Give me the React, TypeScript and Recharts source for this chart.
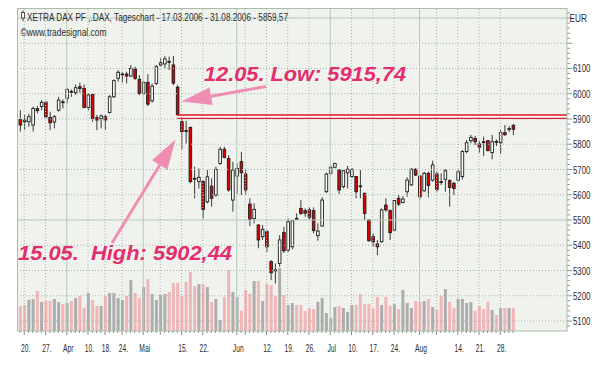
import React from 'react';
import { ComposedChart, Bar, XAxis, YAxis, ReferenceLine, ReferenceArea, Cell } from 'recharts';

// ---- data ----
const opens = [
  5898, 5895, 5889, 5876, 5941, 5949, 5966, 5906, 5888, 5935,
  5968, 5982, 6009, 6004, 6028, 6021, 5946, 5997, 5905, 5901,
  5909, 5926, 5988, 6061, 6076, 6078, 6070, 6098, 6057, 6001,
  6045, 5972, 6041, 6114, 6118, 6128, 6114, 6026, 5889, 5854,
  5867, 5665, 5652, 5652, 5572, 5634, 5599, 5724, 5780, 5744,
  5579, 5674, 5731, 5682, 5563, 5506, 5480, 5434, 5454, 5335,
  5302, 5328, 5450, 5381, 5394, 5506, 5546, 5537, 5540, 5537,
  5438, 5476, 5612, 5685, 5709, 5698, 5632, 5687, 5672, 5672,
  5635, 5606, 5500, 5434, 5405, 5414, 5559, 5537, 5460, 5586,
  5569, 5612, 5639, 5701, 5674, 5616, 5685, 5658, 5682, 5652,
  5661, 5656, 5645, 5658, 5672, 5771, 5814, 5823, 5801, 5810,
  5814, 5767, 5811, 5806, 5846, 5861, 5875,
];
const highs = [
  5935, 5916, 5920, 5949, 5951, 5975, 5971, 5929, 5916, 5988,
  5978, 6024, 6017, 6037, 6044, 6037, 6001, 6001, 5916, 5918,
  5916, 5995, 6057, 6094, 6087, 6087, 6114, 6107, 6074, 6052,
  6078, 6041, 6114, 6140, 6150, 6147, 6150, 6035, 5902.44, 5893,
  5869, 5711, 5704, 5658, 5698, 5665, 5711, 5790, 5790, 5757,
  5731, 5724, 5770, 5698, 5586, 5566, 5484, 5480, 5460, 5341,
  5328, 5440, 5473, 5506, 5500, 5526, 5579, 5546, 5550, 5550,
  5487, 5590, 5687, 5718, 5727, 5701, 5698, 5714, 5705, 5674,
  5698, 5608, 5503, 5447, 5421, 5546, 5586, 5542, 5579, 5599,
  5595, 5669, 5705, 5705, 5678, 5691, 5691, 5735, 5691, 5685,
  5701, 5661, 5652, 5698, 5777, 5817, 5837, 5833, 5814, 5830,
  5817, 5837, 5819, 5856, 5876, 5872, 5880,
];
const lows = [
  5850, 5856, 5869, 5850, 5922, 5935, 5902, 5856, 5863, 5929,
  5942, 5962, 5988, 5997, 6004, 5942, 5935, 5889, 5856, 5863,
  5856, 5922, 5984, 6048, 6044, 6041, 6067, 6054, 5995, 5995,
  5951, 5964, 6034, 6107, 6100, 6094, 6034, 5915.74, 5780, 5803,
  5645, 5586, 5625, 5506, 5566, 5553, 5592, 5718, 5744, 5612,
  5533, 5603, 5599, 5599, 5476, 5487, 5388, 5421, 5374, 5262,
  5249, 5315, 5370, 5374, 5384, 5500, 5520, 5513, 5500, 5447,
  5418, 5474, 5608, 5678, 5705, 5603, 5625, 5625, 5665, 5586,
  5586, 5500, 5414, 5394, 5361, 5410, 5533, 5421, 5458, 5555,
  5566, 5592, 5635, 5674, 5582, 5612, 5590, 5652, 5612, 5639,
  5612, 5553, 5599, 5652, 5661, 5764, 5804, 5797, 5767, 5753,
  5771, 5740, 5793, 5761, 5833, 5848, 5837,
];
const closes = [
  5876, 5889, 5909, 5942, 5933, 5966, 5909, 5885, 5909, 5975,
  5965, 6017, 6007, 6024, 6021, 5946, 5995, 5902, 5896, 5912,
  5896, 5988, 6052, 6085, 6078, 6070, 6100, 6061, 6001, 6045,
  5959, 6030, 6107, 6123, 6138, 6126, 6042, 5917, 5850, 5852,
  5652, 5663, 5669, 5542, 5671, 5586, 5700, 5780, 5748, 5619,
  5698, 5704, 5687, 5619, 5502, 5542, 5421, 5463, 5394, 5291,
  5300, 5421, 5378, 5493, 5497, 5502, 5526, 5527, 5511, 5458,
  5456, 5579, 5682, 5709, 5724, 5619, 5695, 5701, 5701, 5612,
  5633, 5526, 5418, 5414, 5394, 5540, 5540, 5450, 5577, 5563,
  5583, 5658, 5701, 5678, 5592, 5685, 5637, 5718, 5621, 5650,
  5695, 5629, 5625, 5691, 5771, 5806, 5827, 5810, 5788, 5808,
  5775, 5810, 5810, 5846, 5838, 5862, 5859.57,
];
const volumes = [
  25, 26, 31, 32, 40, 29, 30, 30, 32, 29,
  27, 28, 30, 33, 35, 23, 38, 31, 25, 25,
  35, 38, 38, 33, 31, 35, 51, 38, 33, 44,
  52, 37, 31, 36, 37, 39, 48, 48, 35, 49,
  59, 45, 47, 47, 44, 29, 32, 11, 34, 61,
  39, 34, 20, 41, 37, 50, 50, 30, 47, 46,
  35, 63, 36, 26, 28, 26, 26, 20, 23, 22,
  29, 33, 18, 13, 24, 25, 23, 19, 26, 26,
  37, 27, 27, 23, 34, 26, 34, 25, 27, 22,
  41, 28, 23, 30, 29, 30, 32, 24, 21, 35,
  42, 29, 23, 32, 32, 28, 29, 20, 25, 22,
  29, 21, 16, 23, 23, 23, 23,
];

// x-axis labels (index of trading day -> label)
const labelIdx = [1, 6, 11, 16, 20, 24, 29, 38, 43, 51, 58, 63, 68, 73, 78, 83, 88, 94, 103, 108, 113];
const labelText = ['20.', '27.', 'Apr', '10.', '18.', '24.', 'Mai', '15.', '22.', 'Jun', '12.', '19.', '26.', 'Jul', '10.', '17.', '24.', 'Aug', '14.', '21.', '28.'];
const monthStartIdx = [11, 29, 51, 73, 94];
const weekStartIdx = [1, 6, 16, 20, 24, 33, 38, 43, 53, 58, 63, 68, 78, 83, 88, 98, 103, 108, 113];
const priceLabels = [5100, 5200, 5300, 5400, 5500, 5600, 5700, 5800, 5900, 6000, 6100];
const gridPrices = [5100, 5200, 5300, 5400, 5500, 5600, 5700, 5800, 5900, 6000, 6100, 6200, 6300];
const solidPrices = [5500, 6300];
const gapLow = 5902.44;
const gapHigh = 5915.74;
const gapStartIdx = 37;

const titleText = 'XETRA DAX PF ,.DAX, Tageschart - 17.03.2006 - 31.08.2006 - 5859,57';
const sourceText = '\u00A9www.tradesignal.com';
const note1 = '12.05. Low: 5915,74';
const note2 = '15.05.  High: 5902,44';

// ---- layout ----
const W = 602;
const H = 367;
const xDomain = [-0.706, 128.7];
const yDomain = [5060.4, 6339.6];
const volDomain = [0, 323];
const yMinorTicks = Array.from({ length: 63 }, (_, k) => 5080 + 20 * k);
const dayTicks = opens.map((_, i) => i);

const FONT = "'Liberation Sans', Arial, sans-serif";
const TEXT = '#2c2c2c';
const PINK_TEXT = '#e42d6d';
const ARROW = '#f08db2';
const GRID_SOLID = '#b6cab6';
const GRID_DOT = '#aab3aa';

const data = opens.map((o, i) => ({
  i,
  open: o,
  high: highs[i],
  low: lows[i],
  close: closes[i],
  range: [lows[i], highs[i]],
  vol: volumes[i],
}));

function Candle(props: any) {
  const { x, y, width, height, payload } = props;
  if (!payload || x == null || y == null) return null;
  const { open, close, high, low } = payload;
  const top = Math.min(y, y + height);
  const h = Math.abs(height);
  const cx = x + width / 2;
  const k = high === low ? 0 : h / (high - low);
  const yO = top + (high - open) * k;
  const yC = top + (high - close) * k;
  const up = close >= open;
  const bTop = Math.min(yO, yC);
  const bH = Math.max(Math.abs(yO - yC), 0.8);
  return (
    <g>
      <line x1={cx} x2={cx} y1={top} y2={top + h} stroke="#3a3a3a" strokeWidth={1} />
      <rect x={cx - 1.3} y={bTop} width={2.6} height={bH} fill={up ? '#ffffff' : '#e10000'} stroke="#1c1c1c" strokeWidth={0.9} />
    </g>
  );
}

function XTick(props: any) {
  const { x, y, payload } = props;
  const v = payload.value;
  const k = labelIdx.indexOf(v);
  const big = weekStartIdx.includes(v) || monthStartIdx.includes(v);
  return (
    <g>
      <line x1={x} x2={x} y1={y} y2={y + (big ? 4 : 2)} stroke="#8c8c8c" strokeWidth={1} />
      {k >= 0 && (
        <text
          transform={`translate(${x + 1.5},${y + 20.5}) scale(0.64,1)`}
          textAnchor="middle"
          fontSize={10.5}
          fontFamily={FONT}
          fill={TEXT}
        >
          {labelText[k]}
        </text>
      )}
    </g>
  );
}

function YTick(props: any) {
  const { x, y, payload } = props;
  const v = payload.value;
  const major = v % 100 === 0;
  const labeled = priceLabels.includes(v);
  return (
    <g>
      <line x1={x} x2={x + (major ? 5 : 3)} y1={y} y2={y} stroke="#8c968c" strokeWidth={1} />
      {labeled && (
        <text
          transform={`translate(${x + 6},${y + 4}) scale(0.68,1)`}
          fontSize={11.5}
          fontFamily={FONT}
          fill={TEXT}
        >
          {v}
        </text>
      )}
    </g>
  );
}

function arrowPoints(tx: number, ty: number, hx: number, hy: number, shaft: number, headLen: number, headHalf: number) {
  const dx = hx - tx;
  const dy = hy - ty;
  const L = Math.hypot(dx, dy);
  const ux = dx / L;
  const uy = dy / L;
  const px = -uy;
  const py = ux;
  const bx = hx - ux * headLen;
  const by = hy - uy * headLen;
  const s = shaft / 2;
  const pts = [
    [tx + px * s, ty + py * s],
    [bx + px * s, by + py * s],
    [bx + px * headHalf, by + py * headHalf],
    [hx, hy],
    [bx - px * headHalf, by - py * headHalf],
    [bx - px * s, by - py * s],
    [tx - px * s, ty - py * s],
  ];
  return pts.map((p) => p.join(',')).join(' ');
}

export default function App() {
  return (
    <div style={{ position: 'absolute', left: 0, top: 0, width: W, height: H, background: '#ffffff', overflow: 'hidden' }}>
      <div style={{ position: 'absolute', left: 17, top: 8, width: 550, height: 323, background: '#f0f2ee' }} />
      <div style={{ position: 'absolute', left: 0, top: 0 }}>
        <ComposedChart width={W} height={H} data={data} margin={{ top: 8, right: 0, bottom: 0, left: 17 }}>
          <XAxis
            xAxisId="p"
            type="number"
            dataKey="i"
            domain={xDomain}
            allowDataOverflow
            ticks={dayTicks}
            interval={0}
            tickSize={0}
            tickMargin={0}
            tickLine={false}
            axisLine={false}
            tick={(p: any) => <XTick {...p} />}
            height={36}
          />
          <XAxis xAxisId="v" type="number" dataKey="i" domain={xDomain} allowDataOverflow hide />
          <YAxis
            yAxisId="p"
            orientation="right"
            type="number"
            domain={yDomain}
            allowDataOverflow
            ticks={yMinorTicks}
            interval={0}
            tickSize={0}
            tickMargin={0}
            tickLine={false}
            axisLine={false}
            tick={(p: any) => <YTick {...p} />}
            width={35}
          />
          <YAxis yAxisId="v" type="number" domain={volDomain} allowDataOverflow hide />

          {gridPrices.map((v) => (
            <ReferenceLine
              key={'h' + v}
              xAxisId="p"
              yAxisId="p"
              y={v}
              stroke={solidPrices.includes(v) ? GRID_SOLID : GRID_DOT}
              strokeDasharray={solidPrices.includes(v) ? undefined : '1 2'}
              strokeWidth={1}
            />
          ))}
          {weekStartIdx.map((v) => (
            <ReferenceLine key={'w' + v} xAxisId="p" yAxisId="p" x={v} stroke={GRID_DOT} strokeDasharray="1 2" strokeWidth={1} />
          ))}
          {monthStartIdx.map((v) => (
            <ReferenceLine key={'m' + v} xAxisId="p" yAxisId="p" x={v} stroke={GRID_SOLID} strokeWidth={1} />
          ))}

          <Bar xAxisId="v" yAxisId="v" dataKey="vol" barSize={3} isAnimationActive={false}>
            {data.map((d, i) => (
              <Cell key={i} fill={d.close >= d.open ? '#adadad' : '#f2b6b8'} />
            ))}
          </Bar>

          <ReferenceArea
            xAxisId="p"
            yAxisId="p"
            x1={gapStartIdx}
            x2={xDomain[1]}
            y1={gapLow}
            y2={gapHigh}
            fill="#ffffff"
            fillOpacity={1}
            stroke="none"
          />
          <ReferenceLine
            xAxisId="p"
            yAxisId="p"
            segment={[{ x: gapStartIdx, y: gapHigh }, { x: xDomain[1], y: gapHigh }]}
            stroke="#e5101c"
            strokeWidth={1.6}
          />
          <ReferenceLine
            xAxisId="p"
            yAxisId="p"
            segment={[{ x: gapStartIdx, y: gapLow }, { x: xDomain[1], y: gapLow }]}
            stroke="#d4203a"
            strokeWidth={1.2}
          />

          <Bar
            xAxisId="p"
            yAxisId="p"
            dataKey="range"
            barSize={3}
            isAnimationActive={false}
            shape={(p: any) => <Candle {...p} />}
          />
        </ComposedChart>
      </div>
      <svg width={W} height={H} style={{ position: 'absolute', left: 0, top: 0, pointerEvents: 'none' }}>
        <rect x={17.5} y={8.5} width={549.5} height={322.5} fill="none" stroke="#a9bda9" strokeWidth={1} />
        <line x1={23} x2={23} y1={10.5} y2={21} stroke="#444" strokeWidth={1} />
        <rect x={21.5} y={12.5} width={3} height={5.5} fill="#fff" stroke="#444" strokeWidth={0.9} />
        <text x={27} y={20.5} fontSize={10.5} fontFamily={FONT} fill={TEXT} textLength={261} lengthAdjust="spacingAndGlyphs">
          {titleText}
        </text>
        <text x={20.5} y={35.5} fontSize={10} fontFamily={FONT} fill={TEXT} textLength={86} lengthAdjust="spacingAndGlyphs">
          {sourceText}
        </text>
        <text transform="translate(569.5,21.5) scale(0.72,1)" fontSize={11.5} fontFamily={FONT} fill={TEXT}>
          EUR
        </text>

        <polygon points={arrowPoints(266, 86.5, 181.5, 101.5, 3, 30, 9)} fill={ARROW} />
        <polygon points={arrowPoints(112, 243, 175.5, 139.5, 3, 30, 9)} fill={ARROW} />

        <text
          x={204}
          y={81}
          fontSize={21}
          fontWeight="bold"
          fontStyle="italic"
          fontFamily={FONT}
          fill={PINK_TEXT}
          textLength={202}
          lengthAdjust="spacingAndGlyphs"
        >
          {note1}
        </text>
        <text
          x={18}
          y={260}
          fontSize={21}
          fontWeight="bold"
          fontStyle="italic"
          fontFamily={FONT}
          fill={PINK_TEXT}
          textLength={214}
          lengthAdjust="spacingAndGlyphs"
          style={{ whiteSpace: 'pre' }}
        >
          {note2}
        </text>
      </svg>
    </div>
  );
}
